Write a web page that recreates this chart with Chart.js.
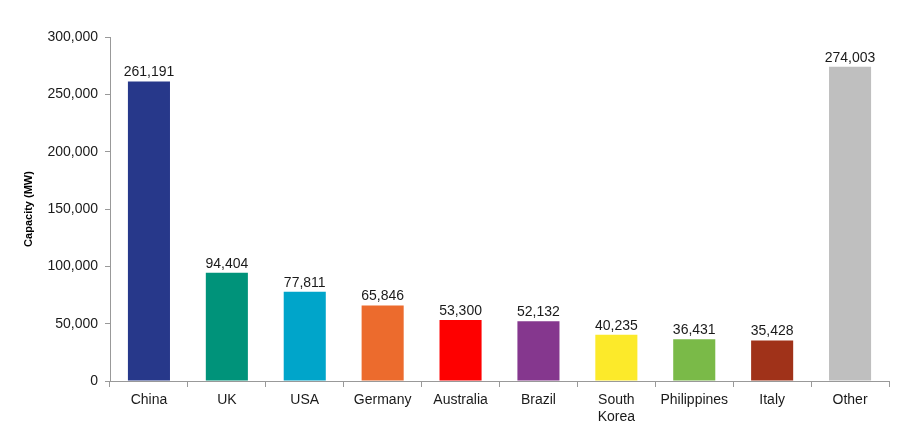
<!DOCTYPE html>
<html>
<head>
<meta charset="utf-8">
<script src="https://cdn.jsdelivr.net/npm/chart.js@4/dist/chart.umd.min.js"></script>
<style>
  html, body { margin: 0; padding: 0; background: #fff; }
  #wrap { width: 916px; height: 434px; }
</style>
</head>
<body>
<div id="wrap"><canvas id="c" width="916" height="434"></canvas></div>
<script>
const categories = ['China', 'UK', 'USA', 'Germany', 'Australia', 'Brazil', ['South', 'Korea'], 'Philippines', 'Italy', 'Other'];
const capacity = [261191, 94404, 77811, 65846, 53300, 52132, 40235, 36431, 35428, 274003];
const barColors = ['#27388A', '#00937A', '#00A5CA', '#EC6B2D', '#FE0000', '#85378E', '#FCEA2A', '#7ABA48', '#A03219', '#BFBFBF'];
const yTicks = [0, 50000, 100000, 150000, 200000, 250000, 300000];

const FONT = '"Liberation Sans", Arial, Helvetica, sans-serif';

const valueLabels = {
  id: 'valueLabels',
  afterDatasetsDraw(chart) {
    const ctx = chart.ctx;
    const meta = chart.getDatasetMeta(0);
    ctx.save();
    ctx.font = '14px ' + FONT;
    ctx.fillStyle = '#1a1a1a';
    ctx.textAlign = 'center';
    ctx.textBaseline = 'bottom';
    meta.data.forEach((bar, i) => {
      ctx.fillText(capacity[i].toLocaleString('en-US'), bar.x, bar.y - 2);
    });
    ctx.restore();
  }
};

new Chart(document.getElementById('c'), {
  type: 'bar',
  data: {
    labels: categories,
    datasets: [{
      data: capacity,
      backgroundColor: barColors,
      borderWidth: 0,
      barPercentage: 0.54,
      categoryPercentage: 1.0
    }]
  },
  options: {
    responsive: false,
    animation: false,
    devicePixelRatio: 1,
    layout: { padding: { top: 37, right: 27, bottom: 0, left: 0 } },
    plugins: { legend: { display: false }, tooltip: { enabled: false } },
    scales: {
      x: {
        offset: true,
        grid: { display: true, drawOnChartArea: false, drawTicks: true, tickLength: 6, offset: true, color: '#999999', lineWidth: 1 },
        border: { display: true, color: '#999999', width: 1 },
        ticks: { color: '#1a1a1a', font: { family: FONT, size: 14 }, padding: 5, maxRotation: 0, autoSkip: false },
        afterFit(scale) { scale.height = 53; }
      },
      y: {
        min: 0, max: 300000,
        afterBuildTicks(scale) { scale.ticks = yTicks.map(v => ({ value: v })); },
        grid: { display: true, drawOnChartArea: false, drawTicks: true, tickLength: 5, color: '#999999', lineWidth: 1 },
        border: { display: true, color: '#999999', width: 1 },
        ticks: {
          color: '#1a1a1a', font: { family: FONT, size: 14 }, padding: 7,
          callback: (v) => Number(v).toLocaleString('en-US')
        },
        title: { display: true, text: 'Capacity (MW)', color: '#000', font: { family: FONT, size: 11, weight: 'bold' }, padding: { top: 22, bottom: 0 } },
        afterFit(scale) { scale.width = 110; }
      }
    }
  },
  plugins: [valueLabels]
});
</script>
</body>
</html>
